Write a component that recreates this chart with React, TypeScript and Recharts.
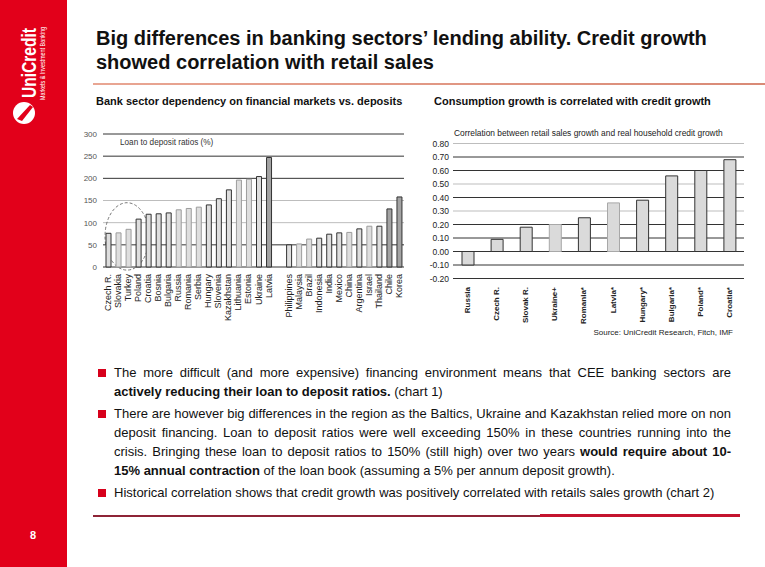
import { Bar, BarChart, CartesianGrid, Cell, ReferenceArea, XAxis, YAxis } from "recharts";

const FONT = '"Liberation Sans", Arial, Helvetica, sans-serif';

// chart 1: loan to deposit ratios (%)
const ldrCountries = [
  "Czech R.", "Slovakia", "Turkey", "Poland", "Croatia", "Bosnia", "Bulgaria", "Russia",
  "Romania", "Serbia", "Hungary", "Slovenia", "Kazakhstan", "Lithuania", "Estonia", "Ukraine",
  "Latvia", "", "Philippines", "Malaysia", "Brazil", "Indonesia", "India", "Mexico", "China",
  "Argentina", "Israel", "Thailand", "Chile", "Korea",
];
const ldrRatios = [
  76, 77, 85, 108, 119, 120, 122, 129, 132, 135, 140, 154, 174, 196, 198, 204, 247, null,
  50, 52, 63, 65, 74, 77, 78, 86, 92, 92, 131, 158,
];
const ldrTicks = [0, 50, 100, 150, 200, 250, 300];

// chart 2: correlation between retail sales growth and real household credit growth
const corrCountries = [
  "Russia", "Czech R.", "Slovak R.", "Ukraine+", "Romania*", "Latvia*", "Hungary*",
  "Bulgaria*", "Poland*", "Croatia*",
];
const corrValues = [-0.1, 0.09, 0.18, 0.2, 0.25, 0.36, 0.38, 0.56, 0.6, 0.68];
const corrTicks = [-0.2, -0.1, 0, 0.1, 0.2, 0.3, 0.4, 0.5, 0.6, 0.7, 0.8];

const ldrData = ldrCountries.map((country, i) => ({ country, ratio: ldrRatios[i] }));
const corrData = corrCountries.map((country, i) => ({ country, corr: corrValues[i] }));

// bars that are drawn with a pale outline / darker fill in the original
const ldrPale = new Set(["Slovakia", "Turkey", "Russia", "Romania", "Serbia", "Lithuania", "Estonia", "Malaysia", "Brazil", "China", "Israel"]);
const ldrDark = new Set(["Latvia", "Chile", "Korea"]);
const corrPale = new Set(["Ukraine+", "Latvia*"]);

function VerticalTick(props: any) {
  const { x, y, payload, offset, size, weight } = props;
  const ty = y + offset;
  return (
    <text
      x={x}
      y={ty}
      transform={`rotate(-90 ${x} ${ty})`}
      textAnchor="end"
      dominantBaseline="central"
      fontSize={size}
      fontWeight={weight}
      fill="#222"
    >
      {payload.value}
    </text>
  );
}

function Ellipse(props: any) {
  const { x, y, width, height } = props;
  return (
    <ellipse
      cx={x + width / 2 + 4}
      cy={y + height / 2}
      rx={width / 2 + 2}
      ry={height / 2}
      fill="none"
      stroke="#555"
      strokeWidth={0.8}
      strokeDasharray="3 2"
    />
  );
}

function Sidebar() {
  return (
    <svg width={67} height={567} style={{ position: "absolute", left: 0, top: 0 }}>
      <rect x={0} y={0} width={67} height={567} fill="#e2001a" />
      <text
        transform="translate(36 98) rotate(-90)"
        fontSize={21}
        fontWeight="bold"
        fill="#fff"
        textLength={70}
        lengthAdjust="spacingAndGlyphs"
      >
        UniCredit
      </text>
      <text
        transform="translate(45 100) rotate(-90)"
        fontSize={6.5}
        fill="#fff"
        textLength={73}
        lengthAdjust="spacingAndGlyphs"
      >
        Markets &amp; Investment Banking
      </text>
      <circle cx={24} cy={113} r={11} fill="#fff" />
      <path d="M17 119 L30 105 L33 107 L22 121 Z" fill="#e2001a" />
      <text x={33} y={539} fontSize={11} fontWeight="bold" fill="#fff" textAnchor="middle">
        8
      </text>
    </svg>
  );
}

const bulletLines = [
  [
    <span key="a">The more difficult (and more expensive) financing environment means that CEE banking sectors are</span>,
    <span key="b"><b>actively reducing their loan to deposit ratios.</b> (chart 1)</span>,
  ],
  [
    <span key="a">There are however big differences in the region as the Baltics, Ukraine and Kazakhstan relied more on non</span>,
    <span key="b">deposit financing. Loan to deposit ratios were well exceeding 150% in these countries running into the</span>,
    <span key="c">crisis. Bringing these loan to deposit ratios to 150% (still high) over two years <b>would require about 10-</b></span>,
    <span key="d"><b>15% annual contraction</b> of the loan book (assuming a 5% per annum deposit growth).</span>,
  ],
  [
    <span key="a">Historical correlation shows that credit growth was positively correlated with retails sales growth (chart 2)</span>,
  ],
];

export default function App() {
  return (
    <div
      style={{
        position: "absolute",
        left: 0,
        top: 0,
        width: 765,
        height: 567,
        background: "#fff",
        fontFamily: FONT,
        color: "#111",
        overflow: "hidden",
      }}
    >
      <Sidebar />

      <div style={{ position: "absolute", left: 96, top: 26, fontSize: 20, fontWeight: "bold", lineHeight: "24px", whiteSpace: "nowrap" }}>
        Big differences in banking sectors’ lending ability. Credit growth
        <br />
        showed correlation with retail sales
      </div>
      <div
        style={{
          position: "absolute",
          left: 93,
          top: 83,
          width: 672,
          height: 2,
          background: "linear-gradient(to right, #e9a693, #d98a76)",
        }}
      />

      <div style={{ position: "absolute", left: 96, top: 95, fontSize: 11, fontWeight: "bold", lineHeight: "12px", whiteSpace: "nowrap" }}>
        Bank sector dependency on financial markets vs. deposits
      </div>
      <div style={{ position: "absolute", left: 434, top: 95, fontSize: 11, fontWeight: "bold", lineHeight: "12px", whiteSpace: "nowrap" }}>
        Consumption growth is correlated with credit growth
      </div>

      {/* chart 1 */}
      <div style={{ position: "absolute", left: 70, top: 125 }}>
        <BarChart width={340} height={210} data={ldrData} margin={{ top: 9, right: 6, bottom: 0, left: 0 }}>
          <CartesianGrid vertical={false} horizontalValues={[100, 150]} stroke="#bdbdbd" />
          <CartesianGrid vertical={false} horizontalValues={[0, 50, 200, 250, 300]} stroke="#333" />
          <XAxis
            dataKey="country"
            interval={0}
            tickLine={false}
            axisLine={false}
            tickSize={0}
            height={68}
            tick={(p: any) => <VerticalTick {...p} offset={5} size={9} weight="normal" />}
          />
          <YAxis
            width={33}
            domain={[0, 300]}
            ticks={ldrTicks}
            interval={0}
            tickLine={false}
            axisLine={false}
            tickSize={0}
            tickMargin={6}
            tick={{ fontSize: 8, fill: "#555" }}
          />
          <ReferenceArea x1="Czech R." x2="Poland" y1={-7} y2={145} ifOverflow="visible" shape={<Ellipse />} />
          <Bar dataKey="ratio" barSize={5} isAnimationActive={false}>
            {ldrData.map((d) => (
              <Cell
                key={d.country}
                fill={ldrDark.has(d.country) ? "#a3a3a3" : "#dedede"}
                stroke={ldrPale.has(d.country) ? "#9c9c9c" : "#333"}
                strokeWidth={1}
              />
            ))}
          </Bar>
        </BarChart>
        <div style={{ position: "absolute", left: 50, top: 13, fontSize: 8.2, color: "#333", whiteSpace: "nowrap" }}>
          Loan to deposit ratios (%)
        </div>
      </div>

      {/* chart 2 */}
      <div style={{ position: "absolute", left: 420, top: 125 }}>
        <BarChart width={330} height={215} data={corrData} margin={{ top: 18.5, right: 6, bottom: 0, left: 0 }}>
          <CartesianGrid vertical={false} horizontalValues={[0.3, 0.5, 0.8]} stroke="#bdbdbd" />
          <CartesianGrid vertical={false} horizontalValues={[-0.2, -0.1, 0, 0.1, 0.2, 0.4, 0.6, 0.7]} stroke="#333" />
          <XAxis
            dataKey="country"
            interval={0}
            tickLine={false}
            axisLine={false}
            tickSize={0}
            height={61.5}
            tick={(p: any) => <VerticalTick {...p} offset={6.5} size={8} weight="bold" />}
          />
          <YAxis
            width={33}
            domain={[-0.2, 0.8]}
            ticks={corrTicks}
            interval={0}
            tickFormatter={(v: number) => v.toFixed(2)}
            tickLine={false}
            axisLine={false}
            tickSize={0}
            tickMargin={4}
            tick={{ fontSize: 8.5, fill: "#222" }}
          />
          <Bar dataKey="corr" barSize={12} isAnimationActive={false}>
            {corrData.map((d) => (
              <Cell key={d.country} fill="#dadada" stroke={corrPale.has(d.country) ? "#a8a8a8" : "#333"} strokeWidth={1} />
            ))}
          </Bar>
        </BarChart>
        <div style={{ position: "absolute", left: 34, top: 3, fontSize: 8.4, color: "#222", whiteSpace: "nowrap" }}>
          Correlation between retail sales growth and real household credit growth
        </div>
      </div>

      <div style={{ position: "absolute", right: 32, top: 328, fontSize: 8, color: "#222", whiteSpace: "nowrap" }}>
        Source: UniCredit Research, Fitch, IMF
      </div>

      {/* bullets */}
      <div style={{ position: "absolute", left: 114, top: 363, width: 617, fontSize: 13, lineHeight: "19px", color: "#111" }}>
        {bulletLines.map((para, pi) => (
          <div key={pi} style={{ position: "relative", marginBottom: 3 }}>
            <div
              style={{ position: "absolute", left: -16, top: 6, width: 8, height: 8, background: "#d7001b" }}
            />
            {para.map((line, li) => (
              <div
                key={li}
                style={{
                  textAlign: "justify",
                  textAlignLast: li < para.length - 1 ? "justify" : "left",
                  whiteSpace: "nowrap",
                }}
              >
                {line}
              </div>
            ))}
          </div>
        ))}
      </div>

      <div style={{ position: "absolute", left: 93, top: 515, width: 447, height: 2, background: "#8e2436" }} />
      <div style={{ position: "absolute", left: 540, top: 514, width: 200, height: 3, background: "#c4142f" }} />
    </div>
  );
}
